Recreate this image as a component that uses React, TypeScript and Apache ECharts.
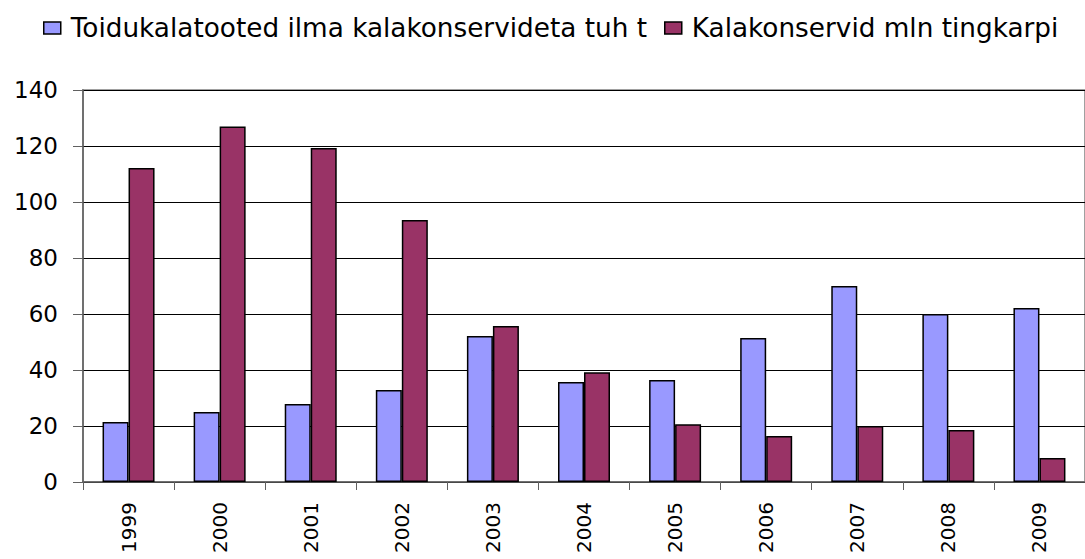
import React, { useEffect, useRef } from "react";
import * as echarts from "echarts";

const categories = ["1999", "2000", "2001", "2002", "2003", "2004", "2005", "2006", "2007", "2008", "2009"];
const seriesNames = ["Toidukalatooted ilma kalakonservideta tuh t", "Kalakonservid mln tingkarpi"];
const foodFish = [21.4, 25, 27.9, 32.9, 52.1, 35.7, 36.4, 51.4, 70, 60, 62.1];
const cannedFish = [112.1, 127, 119.3, 93.6, 55.7, 39.2, 20.6, 16.4, 20, 18.6, 8.6];
const yMin = 0;
const yMax = 140;
const yStep = 20;

export default function App() {
  const ref = useRef<HTMLDivElement>(null);
  useEffect(() => {
    document.body.style.margin = "0";
    if (!ref.current) return;
    const chart = echarts.init(ref.current, null, { renderer: "svg" });
    chart.setOption({
      animation: false,
      backgroundColor: "#ffffff",
      legend: {
        left: 38,
        top: 10,
        itemWidth: 17,
        itemHeight: 12,
        itemGap: 17,
        icon: "rect",
        itemStyle: { borderColor: "#000", borderWidth: 1.5 },
        textStyle: { fontFamily: "DejaVu Sans", fontSize: 26.3, color: "#000", padding: [0, 0, 0, 5] },
        data: seriesNames,
      },
      grid: {
        left: 83,
        right: -1,
        top: 90,
        bottom: 77,
        show: true,
        borderColor: "#a0a0a0",
        borderWidth: 2,
        backgroundColor: "transparent",
      },
      xAxis: {
        type: "category",
        data: categories,
        axisLine: { lineStyle: { color: "#606060", width: 1.5 } },
        axisTick: { show: true, length: 8, lineStyle: { color: "#606060" } },
        axisLabel: {
          rotate: 90,
          margin: 20,
          fontFamily: "DejaVu Sans",
          fontSize: 20,
          color: "#000",
        },
      },
      yAxis: {
        type: "value",
        min: yMin,
        max: yMax,
        interval: yStep,
        axisLine: { show: true, lineStyle: { color: "#606060", width: 1.5 } },
        axisTick: { show: true, length: 10, lineStyle: { color: "#606060" } },
        axisLabel: { margin: 25, fontFamily: "DejaVu Sans", fontSize: 23, color: "#000" },
        splitLine: { show: true, lineStyle: { color: "#000", width: 1 } },
      },
      series: [
        {
          name: seriesNames[0],
          type: "bar",
          data: foodFish,
          barWidth: 26,
          barGap: "0%",
          itemStyle: { color: "#9999ff", borderColor: "#000", borderWidth: 1.5 },
        },
        {
          name: seriesNames[1],
          type: "bar",
          data: cannedFish,
          barWidth: 26,
          barGap: "0%",
          itemStyle: { color: "#993366", borderColor: "#000", borderWidth: 1.5 },
        },
      ],
    });
    return () => chart.dispose();
  }, []);
  return <div ref={ref} style={{ width: 1085, height: 559 }} />;
}
